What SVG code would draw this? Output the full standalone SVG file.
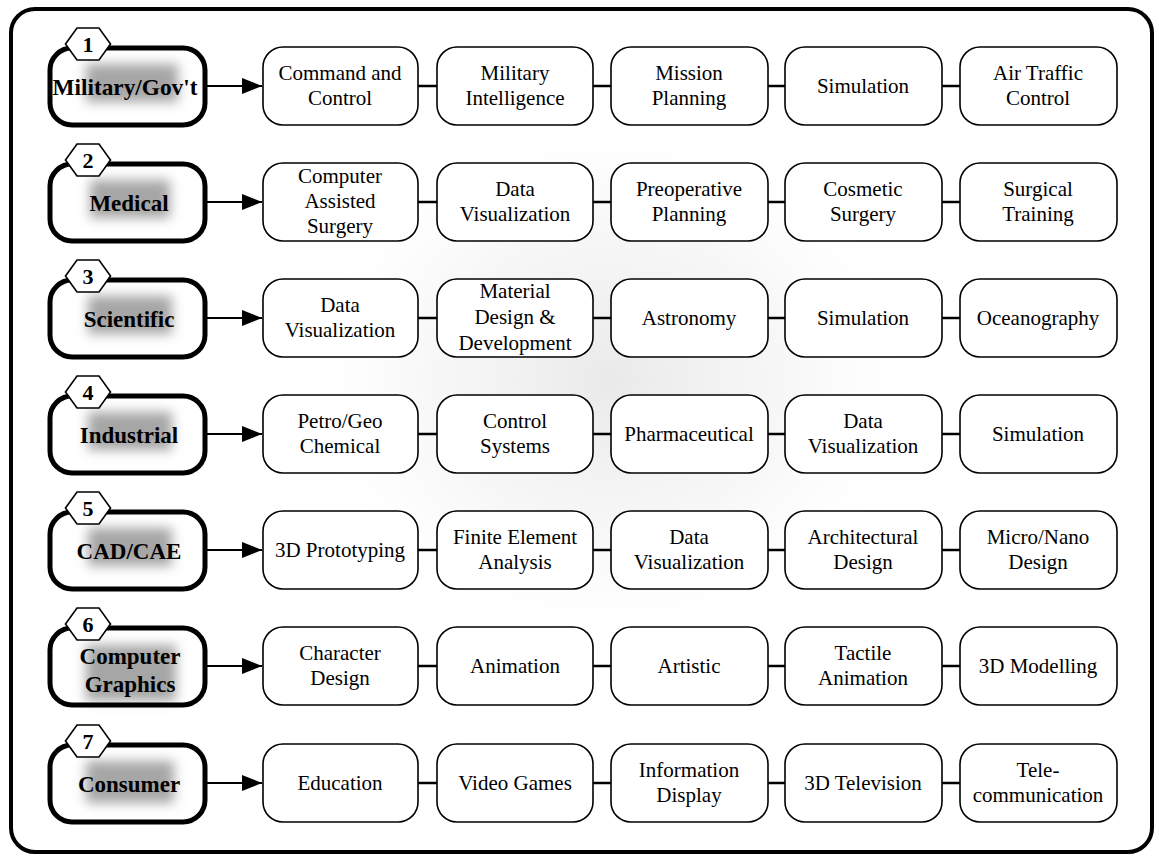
<svg xmlns="http://www.w3.org/2000/svg" width="1159" height="859" viewBox="0 0 1159 859">
<style>
.frame{fill:none;stroke:#000;stroke-width:4}
.cat{fill:none;stroke:#000;stroke-width:5}
.hex{fill:#fff;stroke:#000;stroke-width:1.6}
.box{fill:#fff;stroke:#000;stroke-width:1.6}
.link{stroke:#000;stroke-width:2.6}
.arrow{stroke:#000;stroke-width:2.2}
.glow{fill:#a6a6a6;filter:url(#blur)}
.ct{font-family:"Liberation Serif","Times New Roman",serif;font-weight:bold;font-size:23px;text-anchor:middle;fill:#000}
.num{font-family:"Liberation Serif","Times New Roman",serif;font-weight:bold;font-size:22px;text-anchor:middle;fill:#000}
.t{font-family:"Liberation Serif","Times New Roman",serif;font-size:21px;text-anchor:middle;fill:#000}
</style>
<defs>
<filter id="blur" x="-30%" y="-40%" width="160%" height="180%">
<feGaussianBlur stdDeviation="6"/>
</filter>
<radialGradient id="bg" cx="0.5" cy="0.5" r="0.5">
<stop offset="0" stop-color="#d8d8d8" stop-opacity="0.55"/>
<stop offset="0.6" stop-color="#e4e4e4" stop-opacity="0.3"/>
<stop offset="1" stop-color="#eeeeee" stop-opacity="0"/>
</radialGradient>
<marker id="ah" viewBox="0 0 20 16" refX="20" refY="8" markerWidth="20" markerHeight="16" markerUnits="userSpaceOnUse" orient="auto">
<path d="M0,0 L20,8 L0,16 Z" fill="#000"/>
</marker>
<polygon id="hexshape" points="-22.5,0 -11,-16 11,-16 22.5,0 11,16 -11,16"/>
</defs>
<rect width="1159" height="859" fill="#fff"/>
<ellipse cx="610" cy="380" rx="290" ry="250" fill="url(#bg)"/>
<rect class="frame" x="11" y="9" width="1141" height="843" rx="24"/>

<g id="connectors">
<line class="arrow" x1="207" y1="86" x2="262" y2="86" marker-end="url(#ah)"/>
<line class="arrow" x1="207" y1="202" x2="262" y2="202" marker-end="url(#ah)"/>
<line class="arrow" x1="207" y1="318" x2="262" y2="318" marker-end="url(#ah)"/>
<line class="arrow" x1="207" y1="434" x2="262" y2="434" marker-end="url(#ah)"/>
<line class="arrow" x1="207" y1="550" x2="262" y2="550" marker-end="url(#ah)"/>
<line class="arrow" x1="207" y1="666" x2="262" y2="666" marker-end="url(#ah)"/>
<line class="arrow" x1="207" y1="783" x2="262" y2="783" marker-end="url(#ah)"/>
<g id="links">
<path class="link" d="M418,86H437M593,86H611M768,86H785M942,86H960"/>
<path class="link" d="M418,202H437M593,202H611M768,202H785M942,202H960"/>
<path class="link" d="M418,318H437M593,318H611M768,318H785M942,318H960"/>
<path class="link" d="M418,434H437M593,434H611M768,434H785M942,434H960"/>
<path class="link" d="M418,550H437M593,550H611M768,550H785M942,550H960"/>
<path class="link" d="M418,666H437M593,666H611M768,666H785M942,666H960"/>
<path class="link" d="M418,783H437M593,783H611M768,783H785M942,783H960"/>
</g>
</g>

<!-- Category nodes -->
<g id="cat1">
<rect class="glow" x="86" y="64" width="92" height="38"/>
<rect class="cat" x="50" y="48" width="155" height="77" rx="22"/>
<use href="#hexshape" x="88" y="44" class="hex"/>
<text class="num" x="88" y="52">1</text>
<text class="ct" x="125" y="95" textLength="145" lengthAdjust="spacingAndGlyphs">Military/Gov't</text>
</g>
<g id="cat2">
<rect class="glow" x="90" y="180" width="80" height="38"/>
<rect class="cat" x="50" y="164" width="155" height="77" rx="22"/>
<use href="#hexshape" x="88" y="160" class="hex"/>
<text class="num" x="88" y="168">2</text>
<text class="ct" x="129" y="211">Medical</text>
</g>
<g id="cat3">
<rect class="glow" x="88" y="296" width="84" height="38"/>
<rect class="cat" x="50" y="280" width="155" height="77" rx="22"/>
<use href="#hexshape" x="88" y="276" class="hex"/>
<text class="num" x="88" y="284">3</text>
<text class="ct" x="129" y="327">Scientific</text>
</g>
<g id="cat4">
<rect class="glow" x="88" y="412" width="84" height="38"/>
<rect class="cat" x="50" y="396" width="155" height="77" rx="22"/>
<use href="#hexshape" x="88" y="392" class="hex"/>
<text class="num" x="88" y="400">4</text>
<text class="ct" x="129" y="443">Industrial</text>
</g>
<g id="cat5">
<rect class="glow" x="88" y="528" width="84" height="38"/>
<rect class="cat" x="50" y="512" width="155" height="77" rx="22"/>
<use href="#hexshape" x="88" y="508" class="hex"/>
<text class="num" x="88" y="516">5</text>
<text class="ct" x="129" y="559">CAD/CAE</text>
</g>
<g id="cat6">
<rect class="glow" x="86" y="645" width="90" height="56"/>
<rect class="cat" x="50" y="628" width="155" height="77" rx="22"/>
<use href="#hexshape" x="88" y="624" class="hex"/>
<text class="num" x="88" y="632">6</text>
<text class="ct" x="130" y="664">Computer</text>
<text class="ct" x="130" y="692">Graphics</text>
</g>
<g id="cat7">
<rect class="glow" x="86" y="761" width="88" height="42"/>
<rect class="cat" x="50" y="745" width="155" height="77" rx="22"/>
<use href="#hexshape" x="88" y="741" class="hex"/>
<text class="num" x="88" y="749">7</text>
<text class="ct" x="129" y="792">Consumer</text>
</g>

<!-- Row 1 -->
<g id="r1c1"><rect class="box" x="263" y="47" width="155" height="78" rx="20"/><text class="t" x="340" y="80">Command and</text><text class="t" x="340" y="105">Control</text></g>
<g id="r1c2"><rect class="box" x="437" y="47" width="156" height="78" rx="20"/><text class="t" x="515" y="80">Military</text><text class="t" x="515" y="105">Intelligence</text></g>
<g id="r1c3"><rect class="box" x="611" y="47" width="157" height="78" rx="20"/><text class="t" x="689" y="80">Mission</text><text class="t" x="689" y="105">Planning</text></g>
<g id="r1c4"><rect class="box" x="785" y="47" width="157" height="78" rx="20"/><text class="t" x="863" y="93">Simulation</text></g>
<g id="r1c5"><rect class="box" x="960" y="47" width="157" height="78" rx="20"/><text class="t" x="1038" y="80">Air Traffic</text><text class="t" x="1038" y="105">Control</text></g>

<!-- Row 2 -->
<g id="r2c1"><rect class="box" x="263" y="163" width="155" height="78" rx="20"/><text class="t" x="340" y="183">Computer</text><text class="t" x="340" y="208">Assisted</text><text class="t" x="340" y="233">Surgery</text></g>
<g id="r2c2"><rect class="box" x="437" y="163" width="156" height="78" rx="20"/><text class="t" x="515" y="196">Data</text><text class="t" x="515" y="221">Visualization</text></g>
<g id="r2c3"><rect class="box" x="611" y="163" width="157" height="78" rx="20"/><text class="t" x="689" y="196">Preoperative</text><text class="t" x="689" y="221">Planning</text></g>
<g id="r2c4"><rect class="box" x="785" y="163" width="157" height="78" rx="20"/><text class="t" x="863" y="196">Cosmetic</text><text class="t" x="863" y="221">Surgery</text></g>
<g id="r2c5"><rect class="box" x="960" y="163" width="157" height="78" rx="20"/><text class="t" x="1038" y="196">Surgical</text><text class="t" x="1038" y="221">Training</text></g>

<!-- Row 3 -->
<g id="r3c1"><rect class="box" x="263" y="279" width="155" height="78" rx="20"/><text class="t" x="340" y="312">Data</text><text class="t" x="340" y="337">Visualization</text></g>
<g id="r3c2"><rect class="box" x="437" y="279" width="156" height="78" rx="20"/><text class="t" x="515" y="298">Material</text><text class="t" x="515" y="324">Design &amp;</text><text class="t" x="515" y="350">Development</text></g>
<g id="r3c3"><rect class="box" x="611" y="279" width="157" height="78" rx="20"/><text class="t" x="689" y="325">Astronomy</text></g>
<g id="r3c4"><rect class="box" x="785" y="279" width="157" height="78" rx="20"/><text class="t" x="863" y="325">Simulation</text></g>
<g id="r3c5"><rect class="box" x="960" y="279" width="157" height="78" rx="20"/><text class="t" x="1038" y="325">Oceanography</text></g>

<!-- Row 4 -->
<g id="r4c1"><rect class="box" x="263" y="395" width="155" height="78" rx="20"/><text class="t" x="340" y="428">Petro/Geo</text><text class="t" x="340" y="453">Chemical</text></g>
<g id="r4c2"><rect class="box" x="437" y="395" width="156" height="78" rx="20"/><text class="t" x="515" y="428">Control</text><text class="t" x="515" y="453">Systems</text></g>
<g id="r4c3"><rect class="box" x="611" y="395" width="157" height="78" rx="20"/><text class="t" x="689" y="441">Pharmaceutical</text></g>
<g id="r4c4"><rect class="box" x="785" y="395" width="157" height="78" rx="20"/><text class="t" x="863" y="428">Data</text><text class="t" x="863" y="453">Visualization</text></g>
<g id="r4c5"><rect class="box" x="960" y="395" width="157" height="78" rx="20"/><text class="t" x="1038" y="441">Simulation</text></g>

<!-- Row 5 -->
<g id="r5c1"><rect class="box" x="263" y="511" width="155" height="78" rx="20"/><text class="t" x="340" y="557">3D Prototyping</text></g>
<g id="r5c2"><rect class="box" x="437" y="511" width="156" height="78" rx="20"/><text class="t" x="515" y="544">Finite Element</text><text class="t" x="515" y="569">Analysis</text></g>
<g id="r5c3"><rect class="box" x="611" y="511" width="157" height="78" rx="20"/><text class="t" x="689" y="544">Data</text><text class="t" x="689" y="569">Visualization</text></g>
<g id="r5c4"><rect class="box" x="785" y="511" width="157" height="78" rx="20"/><text class="t" x="863" y="544">Architectural</text><text class="t" x="863" y="569">Design</text></g>
<g id="r5c5"><rect class="box" x="960" y="511" width="157" height="78" rx="20"/><text class="t" x="1038" y="544">Micro/Nano</text><text class="t" x="1038" y="569">Design</text></g>

<!-- Row 6 -->
<g id="r6c1"><rect class="box" x="263" y="627" width="155" height="78" rx="20"/><text class="t" x="340" y="660">Character</text><text class="t" x="340" y="685">Design</text></g>
<g id="r6c2"><rect class="box" x="437" y="627" width="156" height="78" rx="20"/><text class="t" x="515" y="673">Animation</text></g>
<g id="r6c3"><rect class="box" x="611" y="627" width="157" height="78" rx="20"/><text class="t" x="689" y="673">Artistic</text></g>
<g id="r6c4"><rect class="box" x="785" y="627" width="157" height="78" rx="20"/><text class="t" x="863" y="660">Tactile</text><text class="t" x="863" y="685">Animation</text></g>
<g id="r6c5"><rect class="box" x="960" y="627" width="157" height="78" rx="20"/><text class="t" x="1038" y="673">3D Modelling</text></g>

<!-- Row 7 -->
<g id="r7c1"><rect class="box" x="263" y="744" width="155" height="78" rx="20"/><text class="t" x="340" y="790">Education</text></g>
<g id="r7c2"><rect class="box" x="437" y="744" width="156" height="78" rx="20"/><text class="t" x="515" y="790">Video Games</text></g>
<g id="r7c3"><rect class="box" x="611" y="744" width="157" height="78" rx="20"/><text class="t" x="689" y="777">Information</text><text class="t" x="689" y="802">Display</text></g>
<g id="r7c4"><rect class="box" x="785" y="744" width="157" height="78" rx="20"/><text class="t" x="863" y="790">3D Television</text></g>
<g id="r7c5"><rect class="box" x="960" y="744" width="157" height="78" rx="20"/><text class="t" x="1038" y="777">Tele-</text><text class="t" x="1038" y="802">communication</text></g>
</svg>
